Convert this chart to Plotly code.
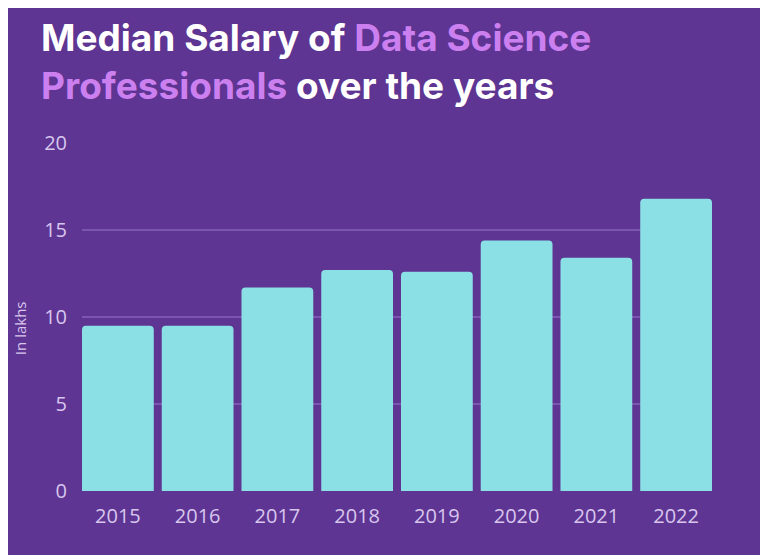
import plotly.graph_objects as go

years = ["2015", "2016", "2017", "2018", "2019", "2020", "2021", "2022"]
salary = [9.5, 9.5, 11.7, 12.7, 12.6, 14.4, 13.4, 16.8]
y_ticks = [0, 5, 10, 15, 20]

BG = "#5E3592"
BAR = "#8BE0E6"
GRID = "#7A56AE"
TICK = "#D8C6EE"
ACCENT = "#CC80F0"

fig = go.Figure(go.Bar(
    x=years, y=salary,
    marker=dict(color=BAR, line=dict(width=0), cornerradius=4),
    hoverinfo="x+y",
))

fig.update_layout(
    width=768, height=555,
    paper_bgcolor=BG, plot_bgcolor=BG,
    margin=dict(l=74, r=64, t=135, b=72),
    bargap=0.1,
    showlegend=False,
    font=dict(family="Open Sans", color=TICK),
    xaxis=dict(showgrid=False, showline=False, zeroline=False, ticks="",
               range=[-0.45, 7.45], automargin=False,
               tickfont=dict(size=20, color=TICK, family="Open Sans"),
               ticklabelstandoff=11),
    yaxis=dict(range=[0, 20], tickvals=y_ticks, showgrid=True, gridcolor=GRID,
               gridwidth=1.5, zeroline=False, showline=False, ticks="",
               automargin=False,
               tickfont=dict(size=20, color=TICK, family="Open Sans"),
               ticklabelstandoff=14),
    annotations=[
        dict(
            xref="paper", yref="paper", x=-0.068, y=1.0, yshift=130,
            xanchor="left", yanchor="top", align="left", showarrow=False,
            text=("<b>Median Salary of <span style='color:%s'>Data Science</span><br>"
                  "<span style='color:%s'>Professionals</span> over the years</b>") % (ACCENT, ACCENT),
            font=dict(family="Inter", size=37, color="white"),
        ),
        dict(
            xref="paper", yref="paper", x=-0.0984, y=0.468,
            xanchor="center", yanchor="middle", showarrow=False, textangle=-90,
            text="In lakhs", font=dict(family="Open Sans", size=15, color=TICK),
        ),
    ],
)

fig.write_html("out.html")
